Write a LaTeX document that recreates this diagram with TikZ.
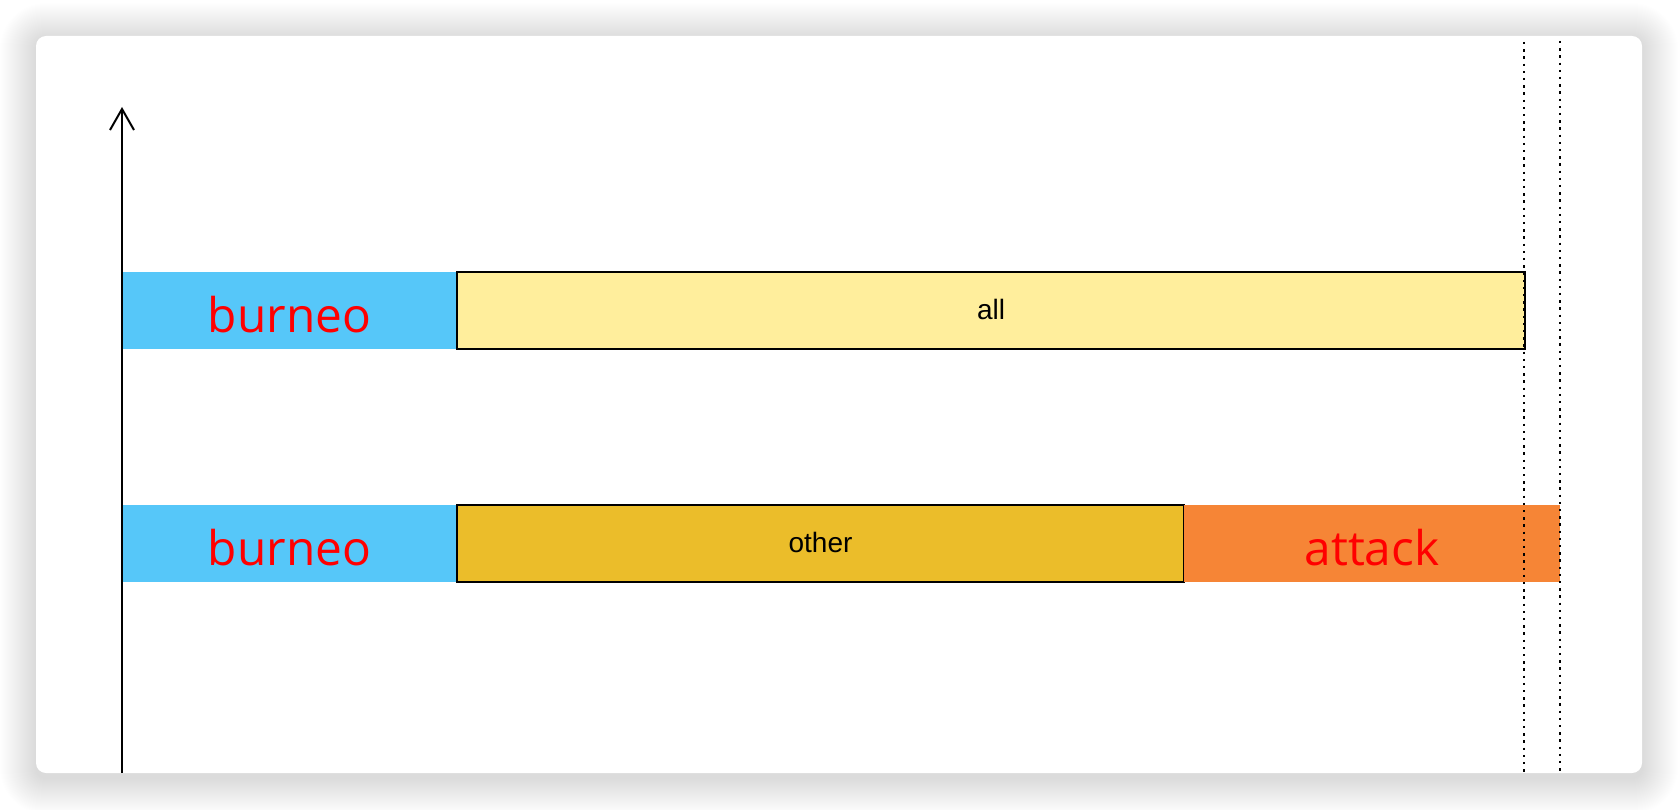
\documentclass[tikz,border=0pt]{standalone}
\usepackage{fontspec}
\setmainfont{Liberation Sans}
\newfontfamily\labelfont{Open Sans}
\usetikzlibrary{arrows.meta}
\definecolor{skyfill}{HTML}{56C7F9}
\definecolor{paleyellow}{HTML}{FFEE9C}
\definecolor{goldfill}{HTML}{EBBD2A}
\definecolor{orangefill}{HTML}{F68536}
\definecolor{redtext}{HTML}{FF0000}
\tikzset{
  bar/.style={rectangle, inner sep=0pt, minimum height=77pt, anchor=center},
  redlabel/.style={bar, text=redtext, font=\labelfont\fontsize{47.8}{57}\selectfont, text height=44pt, text depth=0pt},
  blacklabel/.style={bar, draw=black, line width=2pt, text=black, font=\fontsize{28}{33}\selectfont, text height=18pt, text depth=0pt},
  guide/.style={line width=2.4pt, dash pattern=on 2.4pt off 4.8pt, black},
  axisline/.style={line width=2pt, black, -{Straight Barb[length=21pt, width=24pt, line width=2pt]}}
}
\begin{document}
\begin{tikzpicture}[x=1pt, y=-1pt]
  \useasboundingbox (0,0) rectangle (1678,810);
  \fill[white] (0,0) rectangle (1678,810);
  % card shadow
  \foreach \i in {1,...,36} {
    \fill[black, opacity=0.0052, rounded corners={10pt+\i pt}] ({36-\i},{39-\i}) rectangle ({1642+\i},{778+\i});
  }
  % card
  \fill[white, rounded corners=10pt] (36,36) rectangle (1642,773);
  % guides
  \coordinate (g1top) at (1524,42);
  \coordinate (g1bot) at (1524,773);
  \coordinate (g2top) at (1560,41);
  \coordinate (g2bot) at (1560,773);
  % bars row 1
  \node[redlabel, fill=skyfill, minimum width=335pt] (burneoA) at (289.5,310.5) {burneo};
  \node[blacklabel, fill=paleyellow, minimum width=1068pt] (all) at (991,310.5) {all};
  % bars row 2
  \node[redlabel, fill=skyfill, minimum width=335pt] (burneoB) at (289.5,543.5) {burneo};
  \node[blacklabel, fill=goldfill, minimum width=727pt] (other) at (820.5,543.5) {other};
  \node[redlabel, fill=orangefill, minimum width=376pt] (attack) at (1372,543.5) {attack};
  % dotted guides on top
  \draw[guide] (g1top) -- (g1bot);
  \draw[guide] (g2top) -- (g2bot);
  % axis
  \coordinate (axisbot) at (122,773);
  \coordinate (axistop) at (122,107);
  \draw[axisline] (axisbot) -- (axistop);
\end{tikzpicture}
\end{document}
